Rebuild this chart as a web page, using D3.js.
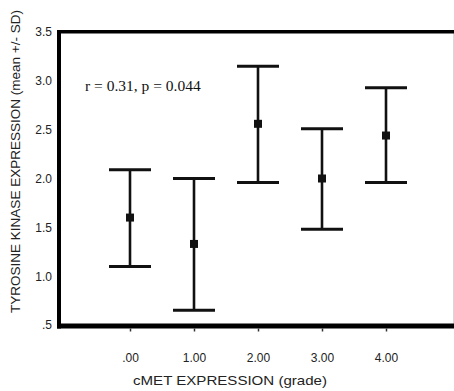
<!DOCTYPE html>
<html>
<head>
<meta charset="utf-8">
<script src="https://cdn.jsdelivr.net/npm/d3@7"></script>
<style>
  html, body { margin: 0; padding: 0; background: #fff; }
  svg { display: block; }
</style>
</head>
<body>
<script>
// ---- data ----
const grades = [0, 1, 2, 3, 4];
const xTickLabels = [".00", "1.00", "2.00", "3.00", "4.00"];
const means = [1.60, 1.33, 2.56, 2.00, 2.44];
const upper = [2.09, 2.00, 3.15, 2.51, 2.93];
const lower = [1.10, 0.65, 1.96, 1.48, 1.96];
const yTickValues = [0.5, 1.0, 1.5, 2.0, 2.5, 3.0, 3.5];
const yTickLabels = [".5", "1.0", "1.5", "2.0", "2.5", "3.0", "3.5"];
const annotation = "r = 0.31, p = 0.044";
const xTitle = "cMET EXPRESSION (grade)";
const yTitle = "TYROSINE KINASE EXPRESSION (mean +/- SD)";

const W = 454, H = 391;
const svg = d3.select("body").append("svg").attr("width", W).attr("height", H);

const x = d3.scaleLinear().domain([0, 4]).range([130, 386]);
const y = d3.scaleLinear().domain([0.5, 3.5]).range([325, 32]);

const sans = "'Liberation Sans', Arial, sans-serif";
const serif = "'Liberation Serif', 'Times New Roman', serif";

// frame
svg.append("line").attr("x1", 453.5).attr("x2", 453.5).attr("y1", 30).attr("y2", 328)
  .attr("stroke", "#d8d8d8").attr("stroke-width", 1);
svg.append("line").attr("x1", 57).attr("x2", 454).attr("y1", 31.7).attr("y2", 31.7)
  .attr("stroke", "#000").attr("stroke-width", 3.6);
svg.append("line").attr("x1", 57).attr("x2", 454).attr("y1", 326).attr("y2", 326)
  .attr("stroke", "#000").attr("stroke-width", 5);
svg.append("line").attr("x1", 59).attr("x2", 59).attr("y1", 30).attr("y2", 328.5)
  .attr("stroke", "#000").attr("stroke-width", 4);

// y axis labels
const yAxis = d3.axisLeft(y).tickValues(yTickValues)
  .tickFormat((d, i) => yTickLabels[i]).tickSize(0).tickPadding(0);
const gy = svg.append("g").attr("transform", "translate(52,0)").call(yAxis);
gy.select(".domain").remove();
gy.selectAll("text").attr("font-family", sans).attr("font-size", 12).attr("fill", "#222");

// x axis
const xAxis = d3.axisBottom(x).tickValues(grades)
  .tickFormat((d, i) => xTickLabels[i]).tickSize(3).tickPadding(22);
const gx = svg.append("g").attr("transform", "translate(0,328.5)").call(xAxis);
gx.select(".domain").remove();
gx.selectAll("line").attr("stroke", "#333").attr("stroke-width", 1.5);
gx.selectAll("text").attr("font-family", sans).attr("font-size", 12).attr("fill", "#222");

// error bars
const capHalf = 21;
const bars = svg.append("g").selectAll("g").data(grades).enter().append("g");
bars.append("line")
  .attr("x1", d => x(d)).attr("x2", d => x(d))
  .attr("y1", (d, i) => y(upper[i])).attr("y2", (d, i) => y(lower[i]))
  .attr("stroke", "#111").attr("stroke-width", 2.6);
bars.append("line")
  .attr("x1", d => x(d) - capHalf).attr("x2", d => x(d) + capHalf)
  .attr("y1", (d, i) => y(upper[i])).attr("y2", (d, i) => y(upper[i]))
  .attr("stroke", "#111").attr("stroke-width", 3);
bars.append("line")
  .attr("x1", d => x(d) - capHalf).attr("x2", d => x(d) + capHalf)
  .attr("y1", (d, i) => y(lower[i])).attr("y2", (d, i) => y(lower[i]))
  .attr("stroke", "#111").attr("stroke-width", 3);
bars.append("rect")
  .attr("x", d => x(d) - 4).attr("y", (d, i) => y(means[i]) - 4)
  .attr("width", 8).attr("height", 8).attr("fill", "#111");

// annotation
svg.append("text").attr("x", 85).attr("y", 91)
  .attr("font-family", serif).attr("font-size", 15.5).attr("fill", "#111")
  .text(annotation);

// titles
svg.append("text").attr("x", 230).attr("y", 385).attr("text-anchor", "middle")
  .attr("font-family", sans).attr("font-size", 13.5).attr("fill", "#222")
  .attr("textLength", 194).attr("lengthAdjust", "spacingAndGlyphs")
  .text(xTitle);
svg.append("text").attr("transform", "translate(19.5,161.5) rotate(-90)")
  .attr("text-anchor", "middle")
  .attr("font-family", sans).attr("font-size", 13.5).attr("fill", "#222")
  .attr("textLength", 303).attr("lengthAdjust", "spacingAndGlyphs")
  .text(yTitle);
</script>
</body>
</html>
